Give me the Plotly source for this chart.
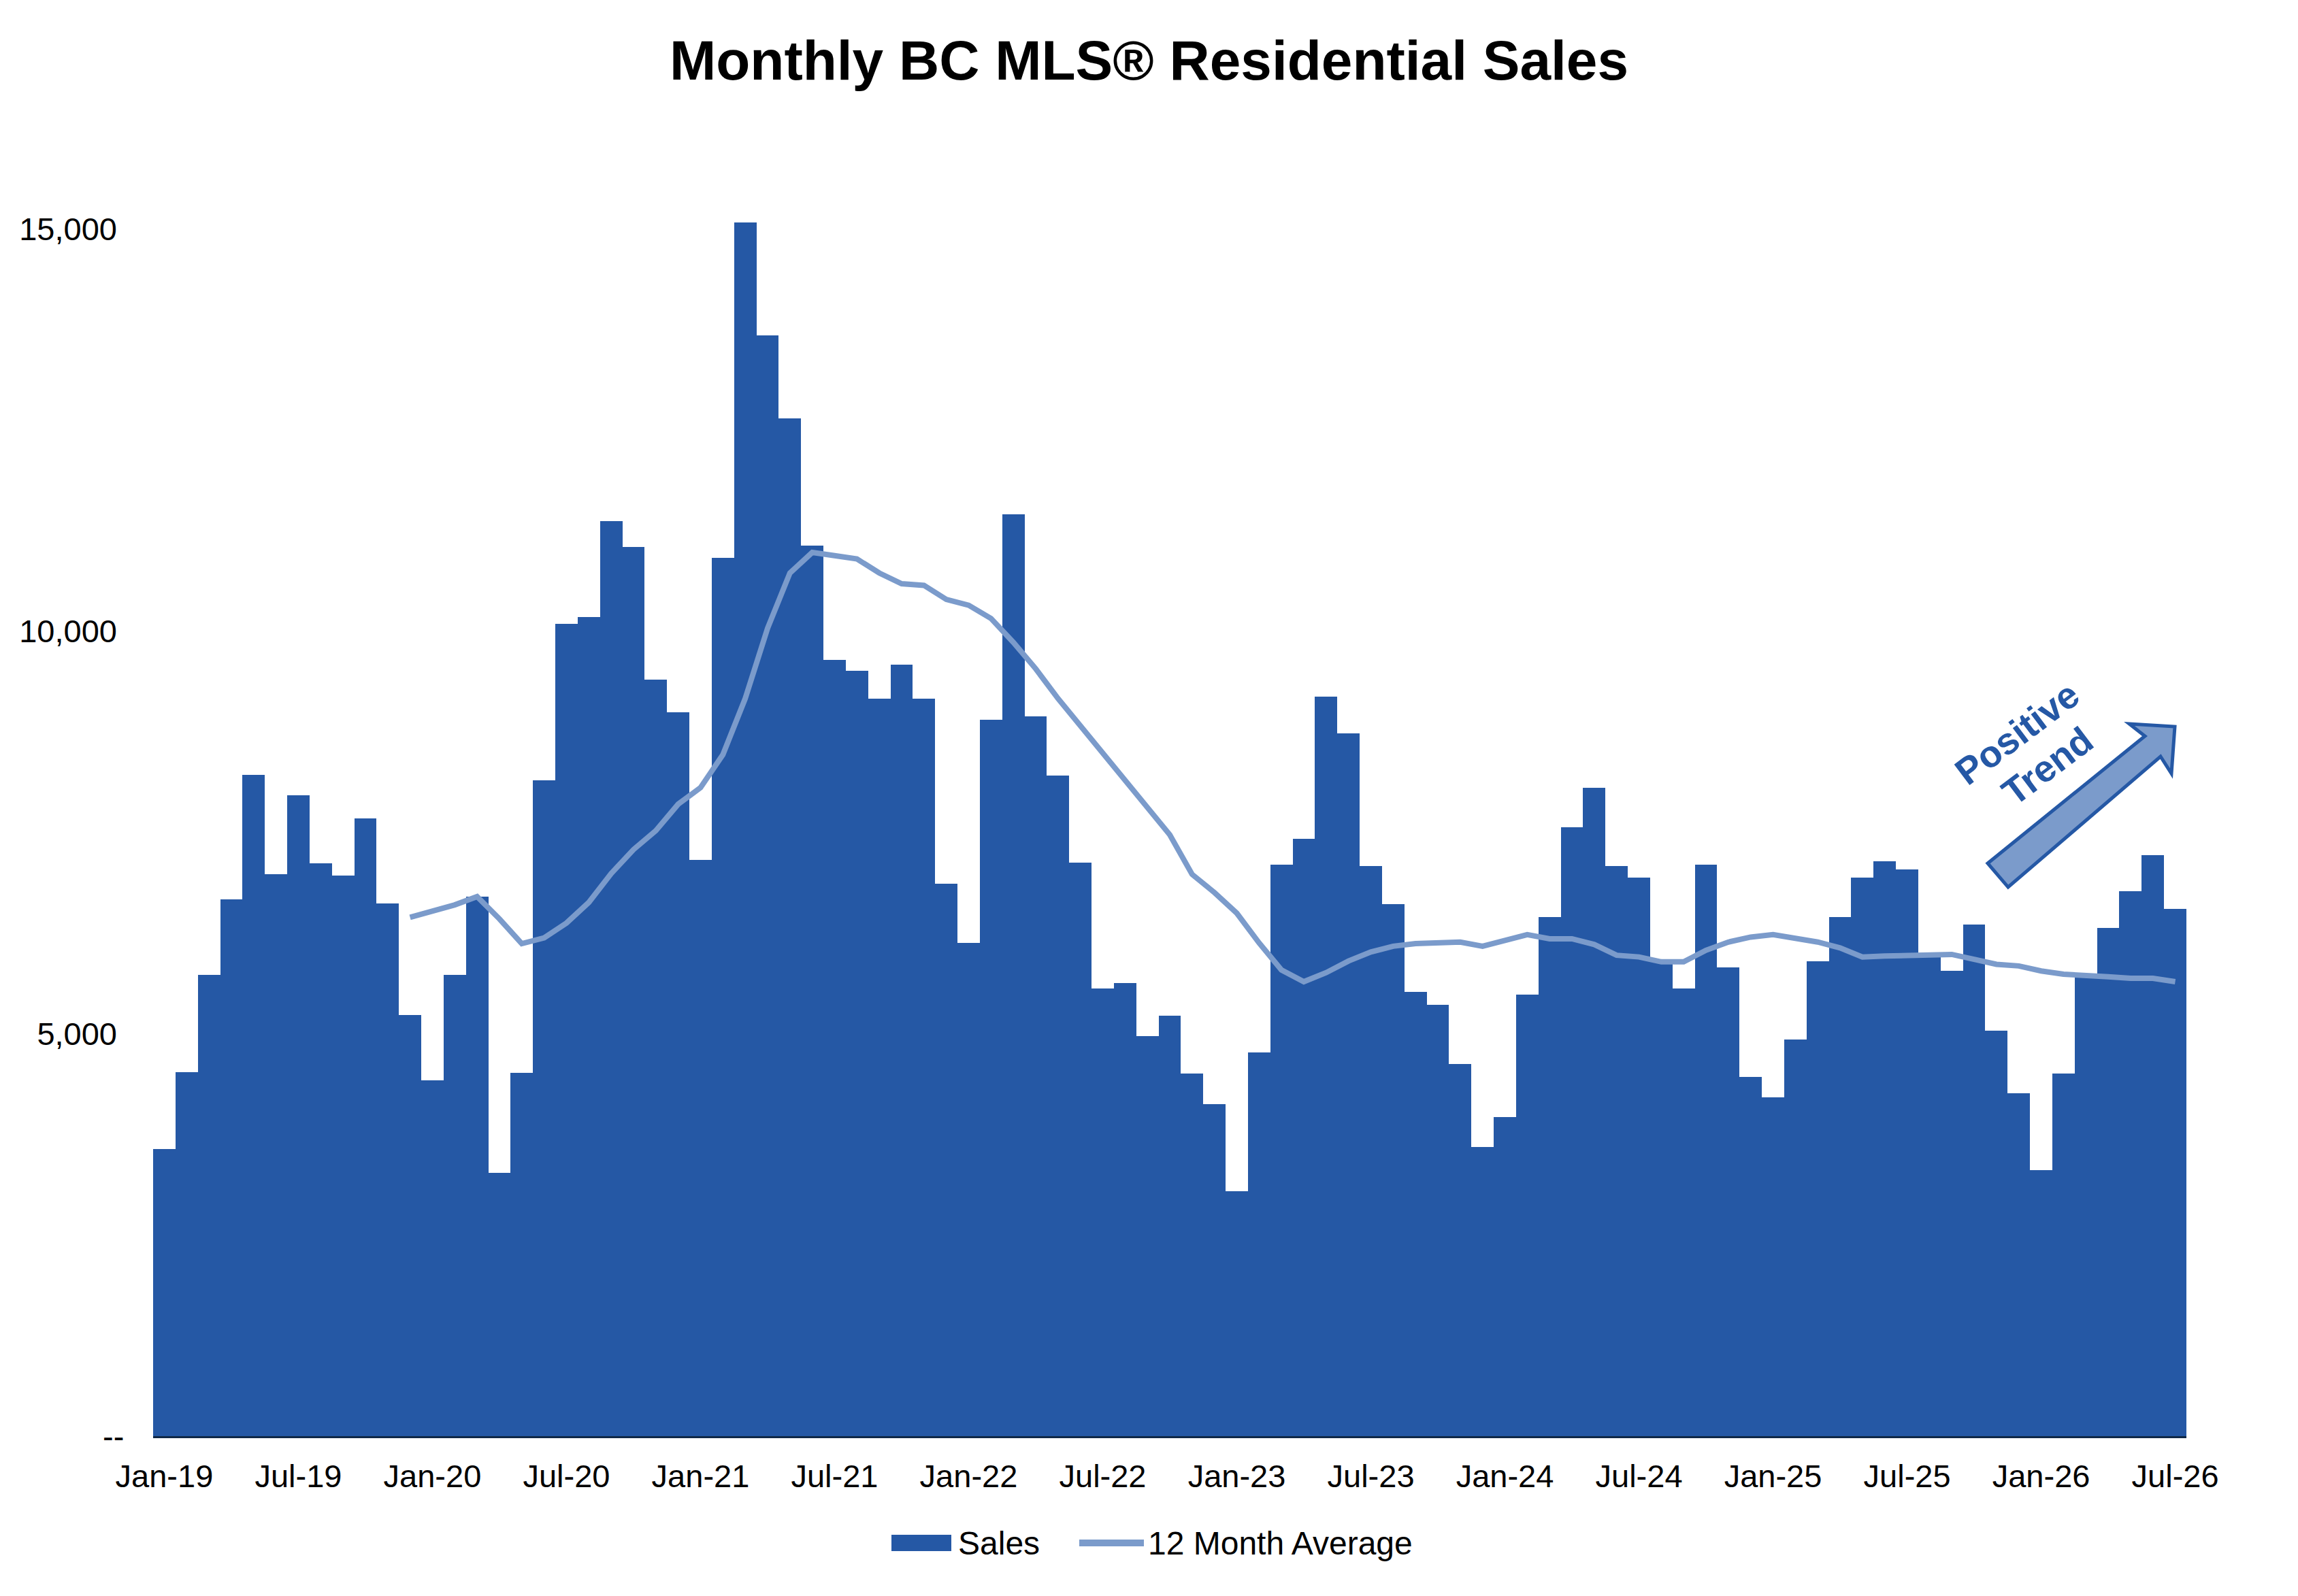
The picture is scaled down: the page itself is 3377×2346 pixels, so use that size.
import plotly.graph_objects as go

# ---------------- data ----------------
month_names = ["Jan", "Feb", "Mar", "Apr", "May", "Jun",
               "Jul", "Aug", "Sep", "Oct", "Nov", "Dec"]
years = ["19", "20", "21", "22", "23", "24", "25", "26"]
months = [f"{m}-{y}" for y in years for m in month_names][:91]   # Jan-19 .. Jul-26

sales = [3570, 4520, 5730, 6665, 8215, 6985, 7960, 7120, 6960, 7670, 6620, 5230,
         4420, 5730, 6705, 3270, 4515, 8150, 10090, 10175, 11365, 11045, 9400, 8995,
         7155, 10915, 15080, 13676, 12640, 11061, 9645, 9512, 9163, 9583, 9163, 6866,
         6127, 8896, 11451, 8938, 8209, 7122, 5563, 5625, 4969, 5225, 4507, 4128,
         3041, 4764, 7102, 7420, 9184, 8733, 7082, 6610, 5523, 5358, 4620, 3594,
         3963, 5481, 6446, 7564, 8056, 7082, 6938, 5912, 5563, 7102, 5820, 4466,
         4210, 4928, 5902, 6446, 6938, 7143, 7040, 5983, 5779, 6353, 5040, 4261,
         3307, 4507, 5696, 6313, 6773, 7215, 6548]

avg_months = months[11:]   # 12 month average starts Dec-19
avg12 = [6446, 6517, 6600, 6702, 6425, 6118, 6190, 6374, 6630, 6989, 7287, 7522, 7851,
         8056, 8466, 9163, 10036, 10723, 10979, 10938, 10897, 10723, 10589, 10569, 10395,
         10322, 10158, 9861, 9533, 9163, 8825, 8497, 8169, 7830, 7471, 6979, 6753,
         6497, 6127, 5790, 5645, 5758, 5902, 6015, 6086, 6118, 6126, 6138, 6086,
         6158, 6230, 6179, 6179, 6108, 5974, 5953, 5892, 5892, 6036, 6138, 6200,
         6230, 6190, 6138, 6066, 5953, 5964, 5974, 5974, 5984, 5923, 5861, 5841,
         5779, 5738, 5728, 5707, 5687, 5687, 5645]

x_tick_labels = ["Jan-19", "Jul-19", "Jan-20", "Jul-20", "Jan-21", "Jul-21", "Jan-22", "Jul-22",
                 "Jan-23", "Jul-23", "Jan-24", "Jul-24", "Jan-25", "Jul-25", "Jan-26", "Jul-26"]
y_tick_vals = [5000, 10000, 15000]
y_tick_text = ["5,000", "10,000", "15,000"]
zero_label = "--"

# ---------------- style ----------------
OFF = 8                      # browser default body margin
W, H = 3377 - 2 * OFF, 2346 - 2 * OFF
L, T = 217, 269
R = W - (3205)
B = H - 2103
PW, PH = W - L - R, H - T - B
BAR = "#2558A5"
LINE = "#7B9BCB"
AXIS = "#0F2847"
FONT = "Arial, Liberation Sans, Helvetica, sans-serif"


def px(X):
    """page pixel x -> paper"""
    return (X - OFF - L) / PW


def py(Y):
    """page pixel y -> paper"""
    return (H - B - (Y - OFF)) / PH


fig = go.Figure()
fig.add_trace(go.Bar(x=months, y=sales, name="Sales", marker=dict(color=BAR, line=dict(width=0)),
                     showlegend=False))
fig.add_trace(go.Scatter(x=avg_months, y=avg12, name="12 Month Average", mode="lines",
                         line=dict(color=LINE, width=8), showlegend=False))

# zero tick label (accounting style dash)
fig.add_annotation(text=zero_label, x=px(184), y=0, xref="paper", yref="y",
                   showarrow=False, xanchor="right", yanchor="middle",
                   font=dict(family=FONT, size=47, color="black"))

# arrow annotation shape
pts = [(2921, 1269), (3152, 1082), (3129, 1064), (3196, 1068), (3191, 1137), (3175, 1112), (2951, 1304)]
path = "M " + " L ".join(f"{px(a):.5f},{py(b):.5f}" for a, b in pts) + " Z"
fig.add_shape(type="path", path=path, xref="paper", yref="paper",
              fillcolor=LINE, line=dict(color=BAR, width=5), layer="above")

fig.add_annotation(text="Positive", x=px(2964), y=py(1078), xref="paper", yref="paper",
                   showarrow=False, textangle=-37, xanchor="center", yanchor="middle",
                   font=dict(family=FONT, size=55, color=BAR, weight="bold"))
fig.add_annotation(text="Trend", x=px(3009), y=py(1126), xref="paper", yref="paper",
                   showarrow=False, textangle=-37, xanchor="center", yanchor="middle",
                   font=dict(family=FONT, size=55, color=BAR, weight="bold"))

# legend (drawn manually to match swatch sizes)
fig.add_shape(type="rect", xref="paper", yref="paper",
              x0=px(1310), x1=px(1398), y0=py(2280), y1=py(2256),
              fillcolor=BAR, line=dict(width=0))
fig.add_annotation(text="Sales", x=px(1406), y=py(2268), xref="paper", yref="paper",
                   showarrow=False, xanchor="left", yanchor="middle",
                   font=dict(family=FONT, size=48, color="black"))
fig.add_shape(type="line", xref="paper", yref="paper",
              x0=px(1586), x1=px(1681), y0=py(2268), y1=py(2268),
              line=dict(color=LINE, width=10))
fig.add_annotation(text="12 Month Average", x=px(1685), y=py(2268), xref="paper", yref="paper",
                   showarrow=False, xanchor="left", yanchor="middle",
                   font=dict(family=FONT, size=48, color="black"))

fig.update_layout(
    width=W, height=H,
    margin=dict(l=L, r=R, t=T, b=B),
    paper_bgcolor="white", plot_bgcolor="white",
    bargap=0,
    title=dict(text="Monthly BC MLS® Residential Sales", x=0.5, xanchor="center",
               xref="container", yref="container", y=1 - 80 / H, yanchor="middle",
               font=dict(family=FONT, size=82, color="black", weight="bold")),
    font=dict(family=FONT, color="black"),
    showlegend=False,
)
fig.update_xaxes(type="category", categoryorder="array", categoryarray=months,
                 range=[-0.5, len(months) - 0.5],
                 tickvals=x_tick_labels, ticktext=x_tick_labels, ticks="",
                 ticklabelstandoff=16, tickfont=dict(size=47, family=FONT, color="black"),
                 showline=True, linecolor=AXIS, linewidth=3, showgrid=False, zeroline=False)
fig.update_yaxes(range=[0, 15500], tickvals=y_tick_vals, ticktext=y_tick_text, ticks="",
                 ticklabelstandoff=52, tickfont=dict(size=47, family=FONT, color="black"),
                 showline=False, showgrid=False, zeroline=False)

fig.write_html("out.html")
